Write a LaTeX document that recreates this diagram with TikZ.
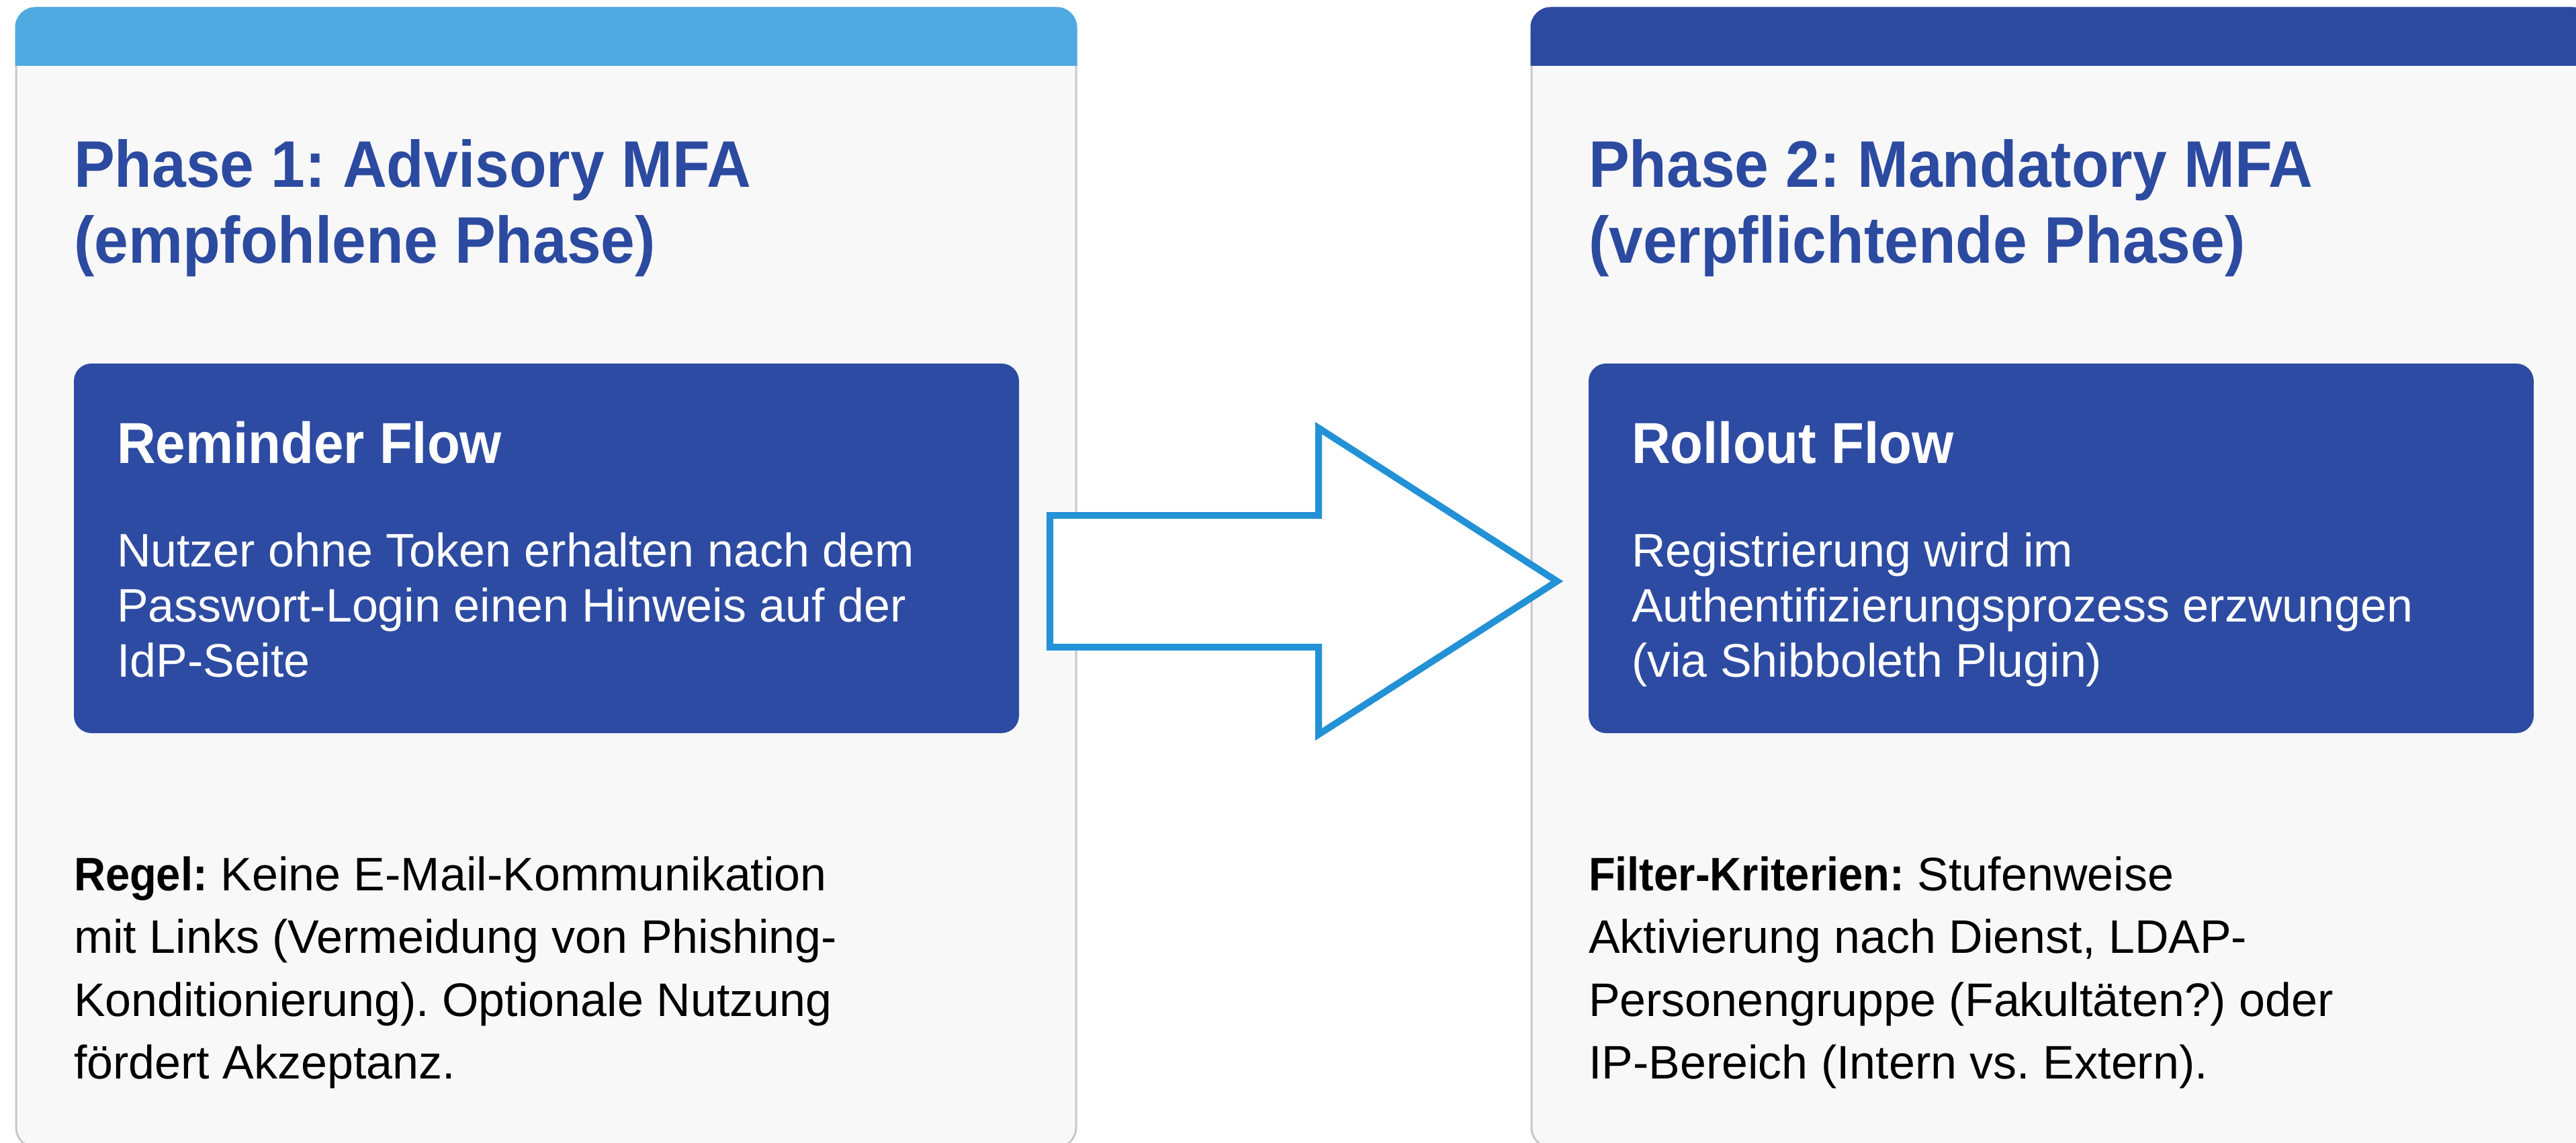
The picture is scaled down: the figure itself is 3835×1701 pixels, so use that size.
\documentclass[tikz,border=0pt]{standalone}
\usepackage{fontspec}
\setmainfont{Liberation Sans}
\newfontfamily\boldst[FakeStretch=0.93]{Liberation Sans Bold}
\usetikzlibrary{calc}
\definecolor{hdrLight}{RGB}{79,169,224}
\definecolor{hdrDark}{RGB}{43,74,160}
\definecolor{boxBlue}{RGB}{45,75,162}
\definecolor{titleBlue}{RGB}{43,74,160}
\definecolor{arrowBlue}{RGB}{34,145,214}
\definecolor{cardFill}{RGB}{248,248,248}
\definecolor{cardLine}{RGB}{200,200,200}
\newcommand{\ml}[1]{\begin{tabular}[t]{@{}l@{}}#1\end{tabular}}
\frenchspacing
\begin{document}
\frenchspacing
\begin{tikzpicture}[x=0.25pt,y=-0.25pt,
  card/.style={draw=cardLine, line width=0.75pt, fill=cardFill, rounded corners=7.5pt,
    minimum width=394.5pt, minimum height=424pt, inner sep=0pt, outer sep=0pt},
  flowbox/.style={fill=boxBlue, rounded corners=6.5pt, minimum width=351.75pt,
    minimum height=137.5pt, inner sep=0pt, outer sep=0pt},
  txt/.style={anchor=base west, inner sep=0pt, outer sep=0pt},
  phasetitle/.style={txt, text=titleBlue, font=\frenchspacing\boldst\fontsize{24.5pt}{28.25pt}\selectfont},
  flowtitle/.style={txt, text=white, font=\frenchspacing\boldst\fontsize{21.5pt}{25pt}\selectfont},
  flowbody/.style={txt, text=white, font=\frenchspacing\fontsize{17.5pt}{20.6pt}\selectfont},
  notetext/.style={txt, text=black, font=\frenchspacing\fontsize{17.5pt}{23.375pt}\selectfont},
  bigarrow/.style={draw=arrowBlue, fill=white, line width=2.5pt, miter limit=10}
]
\useasboundingbox (0,0) rectangle (3835,1701);
\clip (0,0) rectangle (3835,1701);
\fill[white] (0,0) rectangle (3835,1701);

% cards
\node[card] (c1) at (813,860) {};
\node[card] (c2) at (3069,860) {};
\begin{scope}
  \clip[rounded corners=7.5pt] ($(c1.south west)+(-1.5,1.5)$) rectangle ($(c1.north east)+(1.5,-1.5)$);
  \fill[hdrLight] ($(c1.north west)+(-2,-2)$) rectangle ($(c1.north east)+(2,86)$);
\end{scope}
\begin{scope}
  \clip[rounded corners=7.5pt] ($(c2.south west)+(-1.5,1.5)$) rectangle ($(c2.north east)+(1.5,-1.5)$);
  \fill[hdrDark] ($(c2.north west)+(-2,-2)$) rectangle ($(c2.north east)+(2,86)$);
\end{scope}

% inner flow boxes
\node[flowbox] (f1) at (813.5,816) {};
\node[flowbox] (f2) at (3068.5,816) {};

% left texts
\node[phasetitle] (t1) at (110,279) {\ml{Phase 1: Advisory MFA\\(empfohlene Phase)}};
\node[flowtitle] (h1) at (174,689) {Reminder Flow};
\node[flowbody] (b1) at (174,843) {\ml{Nutzer ohne Token erhalten nach dem\\Passwort-Login einen Hinweis auf der\\IdP-Seite}};
\node[notetext] (n1) at (110,1325) {\ml{{\boldst Regel:} Keine E-Mail-Kommunikation\\mit Links (Vermeidung von Phishing-\\Konditionierung). Optionale Nutzung\\fördert Akzeptanz.}};

% right texts
\node[phasetitle] (t2) at (2365,279) {\ml{Phase 2: Mandatory MFA\\(verpflichtende Phase)}};
\node[flowtitle] (h2) at (2429,689) {Rollout Flow};
\node[flowbody] (b2) at (2429,843) {\ml{Registrierung wird im\\Authentifizierungsprozess erzwungen\\(via Shibboleth Plugin)}};
\node[notetext] (n2) at (2365,1325) {\ml{{\boldst Filter-Kriterien:} Stufenweise\\Aktivierung nach Dienst, LDAP-\\Personengruppe (Fakultäten?) oder\\IP-Bereich (Intern vs. Extern).}};

% block arrow
\draw[bigarrow] (1563,767) -- (1963,767) -- (1963,637) -- (2318,865) -- (1963,1093)
  -- (1963,963) -- (1563,963) -- cycle;
\end{tikzpicture}
\end{document}
